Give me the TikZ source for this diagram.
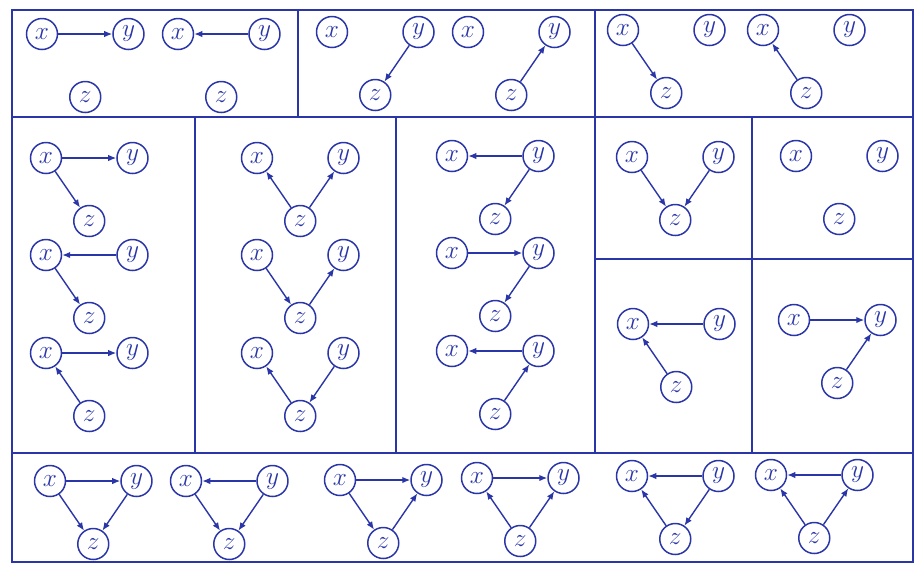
\documentclass[tikz,border=0pt]{standalone}
\usepackage{tikz}
\usetikzlibrary{arrows.meta,positioning,calc}
\definecolor{dagBlue}{HTML}{2A36A8}

\begin{document}
\begin{tikzpicture}[
  var/.style={circle, draw=dagBlue, line width=0.85pt, minimum size=0.62cm, inner sep=0pt, text=dagBlue, font=\Large},
  edge/.style={-{Latex[length=1.6mm,width=1.3mm]}, line width=0.8pt, draw=dagBlue},
  frame/.style={draw=dagBlue, line width=1.3pt}
]
\useasboundingbox (0,0) rectangle (18.28,-11.28);

% ------------------------------------------------------------------
% Frame and cells
% ------------------------------------------------------------------
\draw[frame] (0.24,-0.20) rectangle (18.26,-11.24);
\draw[frame] (0.24,-2.34) -- (18.26,-2.34);
\draw[frame] (0.24,-9.06) -- (18.26,-9.06);
\draw[frame] (5.96,-0.20) -- (5.96,-2.34);
\draw[frame] (11.90,-0.20) -- (11.90,-2.34);
\foreach \cx in {3.90,7.92,11.90,15.04} {
  \draw[frame] (\cx,-2.34) -- (\cx,-9.06);
}
\draw[frame] (11.90,-5.18) -- (18.26,-5.18);

% ------------------------------------------------------------------
% Three-variable graphs: x, y on top, z below between them
% ------------------------------------------------------------------
\foreach \g/\px/\py in {t1/0.84/-0.68, t2/3.56/-0.68, t3/6.64/-0.64, t4/9.36/-0.64,
    t5/12.46/-0.60, t6/15.26/-0.60,
    m1/0.92/-3.16, m2/0.92/-5.10, m3/0.92/-7.06,
    m4/5.14/-3.16, m5/5.14/-5.10, m6/5.14/-7.06,
    m7/9.04/-3.12, m8/9.04/-5.06, m9/9.04/-7.02,
    m10/12.64/-3.14, m11/15.92/-3.12, m12/12.66/-6.48, m13/15.88/-6.40,
    b1/1.00/-9.62, b2/3.72/-9.62, b3/6.80/-9.60, b4/9.54/-9.56,
    b5/12.64/-9.52, b6/15.42/-9.50} {
  \node[var] (\g-x) at (\px,\py) {$x$};
  \node[var, right=1.08cm of \g-x] (\g-y) {$y$};
  \node[var] (\g-z) at ($(\g-x)!0.5!(\g-y)+(0,-1.26)$) {$z$};
}

% top row: one edge
\draw[edge] (t1-x) -- (t1-y);
\draw[edge] (t2-y) -- (t2-x);
\draw[edge] (t3-y) -- (t3-z);
\draw[edge] (t4-z) -- (t4-y);
\draw[edge] (t5-x) -- (t5-z);
\draw[edge] (t6-z) -- (t6-x);

% middle: two edges
\draw[edge] (m1-x) -- (m1-y);
\draw[edge] (m1-x) -- (m1-z);
\draw[edge] (m2-y) -- (m2-x);
\draw[edge] (m2-x) -- (m2-z);
\draw[edge] (m3-x) -- (m3-y);
\draw[edge] (m3-z) -- (m3-x);

\draw[edge] (m4-z) -- (m4-x);
\draw[edge] (m4-z) -- (m4-y);
\draw[edge] (m5-x) -- (m5-z);
\draw[edge] (m5-z) -- (m5-y);
\draw[edge] (m6-z) -- (m6-x);
\draw[edge] (m6-y) -- (m6-z);

\draw[edge] (m7-y) -- (m7-x);
\draw[edge] (m7-y) -- (m7-z);
\draw[edge] (m8-x) -- (m8-y);
\draw[edge] (m8-y) -- (m8-z);
\draw[edge] (m9-y) -- (m9-x);
\draw[edge] (m9-z) -- (m9-y);

\draw[edge] (m10-x) -- (m10-z);
\draw[edge] (m10-y) -- (m10-z);
\draw[edge] (m12-y) -- (m12-x);
\draw[edge] (m12-z) -- (m12-x);
\draw[edge] (m13-x) -- (m13-y);
\draw[edge] (m13-z) -- (m13-y);

% bottom row: three edges
\draw[edge] (b1-x) -- (b1-y);
\draw[edge] (b1-x) -- (b1-z);
\draw[edge] (b1-y) -- (b1-z);
\draw[edge] (b2-y) -- (b2-x);
\draw[edge] (b2-x) -- (b2-z);
\draw[edge] (b2-y) -- (b2-z);
\draw[edge] (b3-x) -- (b3-y);
\draw[edge] (b3-x) -- (b3-z);
\draw[edge] (b3-z) -- (b3-y);
\draw[edge] (b4-x) -- (b4-y);
\draw[edge] (b4-z) -- (b4-x);
\draw[edge] (b4-z) -- (b4-y);
\draw[edge] (b5-y) -- (b5-x);
\draw[edge] (b5-z) -- (b5-x);
\draw[edge] (b5-y) -- (b5-z);
\draw[edge] (b6-y) -- (b6-x);
\draw[edge] (b6-z) -- (b6-x);
\draw[edge] (b6-z) -- (b6-y);

\end{tikzpicture}
\end{document}
